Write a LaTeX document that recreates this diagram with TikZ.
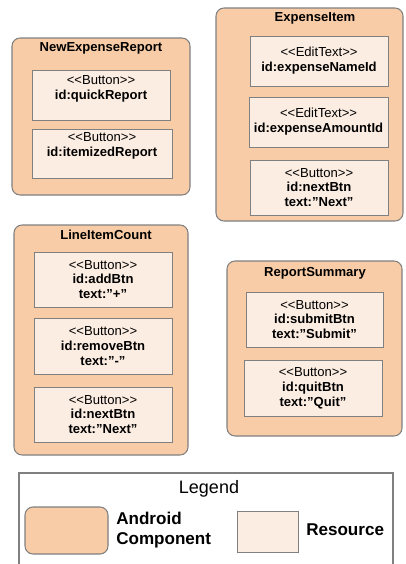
\documentclass[tikz,border=0pt]{standalone}
\usepackage{fontspec}
\setmainfont{Liberation Sans}
\usetikzlibrary{fit}
\definecolor{compfill}{RGB}{248,204,166}
\definecolor{resfill}{RGB}{252,237,226}
\definecolor{edge}{RGB}{128,128,128}
\tikzset{
  comp/.style={draw=edge, fill=compfill, line width=0.8pt, rounded corners=6pt, inner sep=0pt},
  res/.style={draw=edge, fill=resfill, line width=0.7pt, inner sep=0pt},
  title/.style={font=\fontsize{9.8}{11}\selectfont\bfseries, inner sep=0pt},
  lbl/.style={align=center, inner sep=0pt, font=\fontsize{9.8}{11.1}\selectfont},
  legendtext/.style={font=\fontsize{12.8}{15}\selectfont\bfseries, align=left, inner sep=0pt, anchor=west},
}
\newcommand{\stereo}[1]{\mdseries #1}
\newcommand{\qtxt}[1]{text:”#1\char"22}
\begin{document}
\begin{tikzpicture}[x=0.75pt, y=-0.75pt]
\useasboundingbox (0,0) rectangle (405,564);
\clip (0,0) rectangle (405,564);

% NewExpenseReport
\node[comp, fit={(12,38) (190,195)}] (ner) {};
\node[title] (nerT) at (101,48) {NewExpenseReport};
\node[res, fit={(32,70) (170,120)}] (ner1) {};
\node[lbl, anchor=north] (ner1t) at (101,75) {\stereo{<{}<Button>{}>}\\\bfseries id:quickReport};
\node[res, fit={(32,129) (172,178)}] (ner2) {};
\node[lbl, anchor=north] (ner2t) at (102,132) {\stereo{<{}<Button>{}>}\\\bfseries id:itemizedReport};

% ExpenseItem
\node[comp, fit={(216,8) (403,221)}] (ei) {};
\node[title] (eiT) at (315,18) {ExpenseItem};
\node[res, fit={(250,36) (388,86)}] (ei1) {};
\node[lbl] (ei1t) at (ei1.center) {\stereo{<{}<EditText>{}>}\\\bfseries id:expenseNameId};
\node[res, fit={(249,97) (388,147)}] (ei2) {};
\node[lbl] (ei2t) at (ei2.center) {\stereo{<{}<EditText>{}>}\\\bfseries id:expenseAmountId};
\node[res, fit={(250,160) (388,215)}] (ei3) {};
\node[lbl] (ei3t) at (ei3.center) {\stereo{<{}<Button>{}>}\\\bfseries id:nextBtn\\\bfseries \qtxt{Next}};

% LineItemCount
\node[comp, fit={(14,225) (188,455)}] (lic) {};
\node[title] (licT) at (106,235) {LineItemCount};
\node[res, fit={(34,252) (172,307)}] (lic1) {};
\node[lbl] (lic1t) at (lic1.center) {\stereo{<{}<Button>{}>}\\\bfseries id:addBtn\\\bfseries \qtxt{+}};
\node[res, fit={(34,318) (172,374)}] (lic2) {};
\node[lbl] (lic2t) at (lic2.center) {\stereo{<{}<Button>{}>}\\\bfseries id:removeBtn\\\bfseries \qtxt{-}};
\node[res, fit={(34,387) (172,442)}] (lic3) {};
\node[lbl] (lic3t) at (lic3.center) {\stereo{<{}<Button>{}>}\\\bfseries id:nextBtn\\\bfseries \qtxt{Next}};

% ReportSummary
\node[comp, fit={(227,261) (402,436)}] (rs) {};
\node[title] (rsT) at (315,273) {ReportSummary};
\node[res, fit={(246,292) (383,347)}] (rs1) {};
\node[lbl] (rs1t) at (rs1.center) {\stereo{<{}<Button>{}>}\\\bfseries id:submitBtn\\\bfseries \qtxt{Submit}};
\node[res, fit={(244,360) (382,416)}] (rs2) {};
\node[lbl] (rs2t) at (rs2.center) {\stereo{<{}<Button>{}>}\\\bfseries id:quitBtn\\\bfseries \qtxt{Quit}};

% Legend
\node[draw=edge, fill=white, line width=0.8pt, inner sep=0pt, fit={(19,473) (393,600)}] (leg) {};
\node[inner sep=0pt, font=\fontsize{13.5}{15}\selectfont] (legT) at (209,489) {Legend};
\node[comp, fit={(25,507) (108,554)}] (legC) {};
\node[legendtext] (legCt) at (116,530) {Android\\Component};
\node[res, fit={(237,511) (298,552)}] (legR) {};
\node[legendtext] (legRt) at (306,530) {Resource};
\end{tikzpicture}
\end{document}
